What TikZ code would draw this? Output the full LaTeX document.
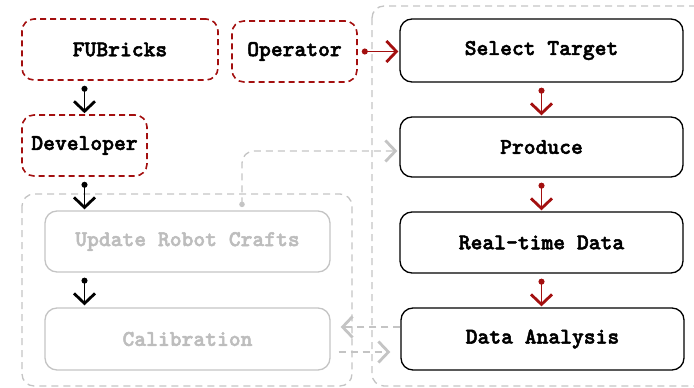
\documentclass[tikz,border=0pt]{standalone}
\usepackage{fontspec}
\newfontfamily\boxfont{lmmonolt10-bold.otf}[FakeBold=2.2]
\usetikzlibrary{arrows.meta}
\definecolor{dred}{HTML}{A30F0F}
\definecolor{lgray}{HTML}{C4C4C4}
\definecolor{tgray}{HTML}{BDBDBD}
\tikzset{
  txt/.style={font=\boxfont\fontsize{22.5}{24}\selectfont},
  actor/.style={txt, draw=dred, line width=1.6pt, dash pattern=on 6pt off 4pt, rounded corners=12pt, inner sep=0pt},
  stepbox/.style={txt, draw=black, line width=1.3pt, rounded corners=12pt, inner sep=0pt, minimum width=283pt},
  grbox/.style={txt, text=tgray, draw=lgray, line width=1.3pt, rounded corners=12pt, inner sep=0pt, minimum width=285pt},
  grp/.style={draw=lgray, line width=1.3pt, dash pattern=on 7pt off 5pt, rounded corners=12pt},
  dtip/.style={{Circle[length=6pt]}-{Straight Barb[length=10pt,width=21pt,line width=2.8pt]}},
  gtip/.style={-{Straight Barb[length=10pt,width=21pt,line width=2.8pt]}},
  blk/.style={dtip, line width=1.3pt, black},
  red/.style={dtip, line width=1.5pt, dred},
  gra/.style={gtip, line width=1.3pt, lgray, dash pattern=on 7pt off 5pt},
}
\begin{document}
\begin{tikzpicture}[x=1pt,y=-1pt]
\useasboundingbox (0,0) rectangle (694,388);
\clip (0,0) rectangle (694,388);
% groups
\draw[grp] (22,194) rectangle (352,386);
\draw[grp] (372,6) rectangle (720,386);
% nodes
\node[actor, minimum width=196pt, minimum height=61pt] (fu) at (120,49.5) {FUBricks};
\node[actor, minimum width=125pt, minimum height=61pt] (op) at (294.5,51.5) {Operator};
\node[actor, minimum width=125pt, minimum height=61pt] (dev) at (84.5,145.5) {Developer};
\node[grbox, minimum height=61pt] (upd) at (187.5,241.5) {Update Robot Crafts};
\node[grbox, minimum height=62pt] (cal) at (187.5,339) {Calibration};
\node[stepbox, minimum height=63pt] (sel) at (541.5,50.5) {Select Target};
\node[stepbox, minimum height=60pt] (prod) at (541.5,147) {Produce};
\node[stepbox, minimum height=61pt] (rt) at (541.5,242.5) {Real-time Data};
\node[stepbox, minimum height=62pt] (da) at (542.5,339) {Data Analysis};
% black arrows
\draw[blk, shorten <=5pt, shorten >=1pt] (fu.south -| dev.north) -- (dev.north);
\draw[blk, shorten <=5pt, shorten >=1pt] (dev.south) -- (dev.south |- upd.north);
\draw[blk, shorten <=5pt, shorten >=2pt] (upd.south -| dev.south) -- (cal.north -| dev.south);
% red arrows
\draw[red, shorten <=4pt, shorten >=1pt] (op.east) -- (sel.west |- op.east);
\draw[red, shorten <=5pt, shorten >=1pt] (sel.south) -- (prod.north);
\draw[red, shorten <=5pt, shorten >=1pt] (prod.south) -- (rt.north);
\draw[red, shorten <=5pt, shorten >=1pt] (rt.south) -- (da.north -| rt.south);
% gray arrows
\coordinate (u0) at ([xshift=54.5pt,yshift=6pt]upd.north);
\fill[lgray] (u0) circle (2.8pt);
\draw[gra, rounded corners=12pt, shorten >=2pt] (u0) |- ([yshift=-4pt]prod.west);
\draw[gra, shorten >=10pt] ([yshift=12pt]da.west) -- ([yshift=12pt]cal.east);
\draw[gra, shorten <=8pt, shorten >=10pt] ([yshift=-13pt]cal.east) -- ([yshift=-13pt]cal.east -| da.west);
\end{tikzpicture}
\end{document}
